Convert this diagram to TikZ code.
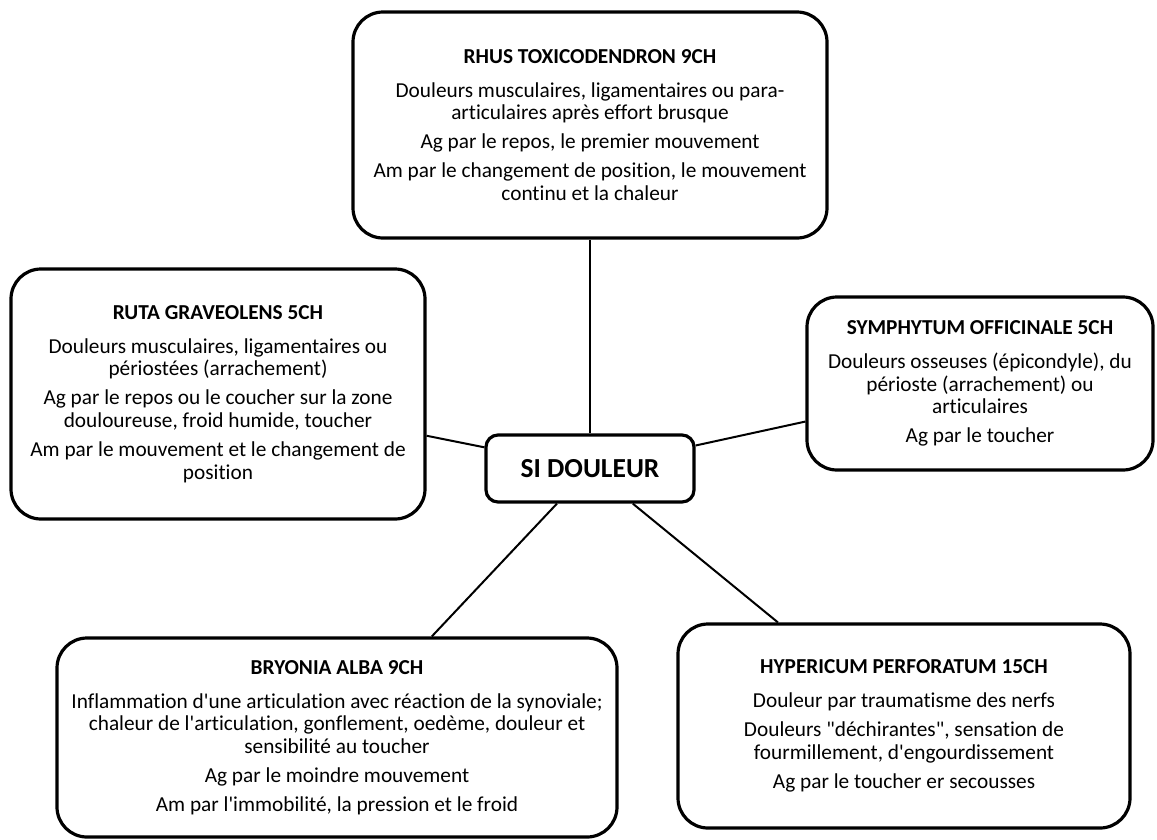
\documentclass[tikz,border=0pt]{standalone}
\usepackage{fontspec}
\newfontfamily\carlito{Carlito}[Ligatures=NoCommon]
\usetikzlibrary{positioning}

\newcommand\remedy[1]{{\bfseries\fontsize{21.3}{22.7}\selectfont #1}}

\begin{document}
\begin{tikzpicture}[
  x=1pt, y=-1pt,
  box/.style={draw, line width=3.2pt, rounded corners=30pt, align=center, inner sep=0pt,
    font=\carlito\fontsize{21.3}{22.7}\selectfont},
  hub/.style={draw, line width=3.2pt, rounded corners=12pt, minimum width=208pt, minimum height=67pt,
    font=\carlito\bfseries\fontsize{27.5}{34}\selectfont},
  link/.style={line width=2pt}
]
\useasboundingbox (0,0) rectangle (1157,839);

\node[hub] (douleur) at (590,468.5) {SI DOULEUR};

\node[box, minimum width=474pt, minimum height=226pt] (rhus) at (590,125)
  {\remedy{RHUS TOXICODENDRON 9CH}\\[11.3pt]
   Douleurs musculaires, ligamentaires ou para-\\articulaires après effort brusque\\[6.3pt]
   Ag par le repos, le premier mouvement\\[6.3pt]
   Am par le changement de position, le mouvement\\continu et la chaleur};

\node[box, minimum width=414pt, minimum height=250pt] (ruta) at (218,394)
  {\remedy{RUTA GRAVEOLENS 5CH}\\[11.3pt]
   Douleurs musculaires, ligamentaires ou\\périostées (arrachement)\\[6.3pt]
   Ag par le repos ou le coucher sur la zone\\douloureuse, froid humide, toucher\\[6.3pt]
   Am par le mouvement et le changement de\\position};

\node[box, minimum width=346pt, minimum height=173pt] (symphytum) at (980,383.5)
  {\remedy{SYMPHYTUM OFFICINALE 5CH}\\[11.3pt]
   Douleurs osseuses (épicondyle), du\\périoste (arrachement) ou\\articulaires\\[6.3pt]
   Ag par le toucher};

\node[box, minimum width=560pt, minimum height=199pt] (bryonia) at (337,737.5)
  {\remedy{BRYONIA ALBA 9CH}\\[11.3pt]
   Inflammation d'une articulation avec réaction de la synoviale;\\chaleur de l'articulation, gonflement, oedème, douleur et\\sensibilité au toucher\\[6.3pt]
   Ag par le moindre mouvement\\[6.3pt]
   Am par l'immobilité, la pression et le froid};

\node[box, minimum width=452pt, minimum height=204pt] (hypericum) at (904,726)
  {\remedy{HYPERICUM PERFORATUM 15CH}\\[11.3pt]
   Douleur par traumatisme des nerfs\\[6.3pt]
   Douleurs "déchirantes", sensation de\\fourmillement, d'engourdissement\\[6.3pt]
   Ag par le toucher er secousses};

% spokes from the hub
\draw[link] (douleur) -- (rhus);
\draw[link] (douleur) -- (ruta);
\draw[link] (douleur) -- (symphytum);
\draw[link] (douleur) -- (bryonia);
\draw[link] (douleur) -- (hypericum);
\end{tikzpicture}
\end{document}
